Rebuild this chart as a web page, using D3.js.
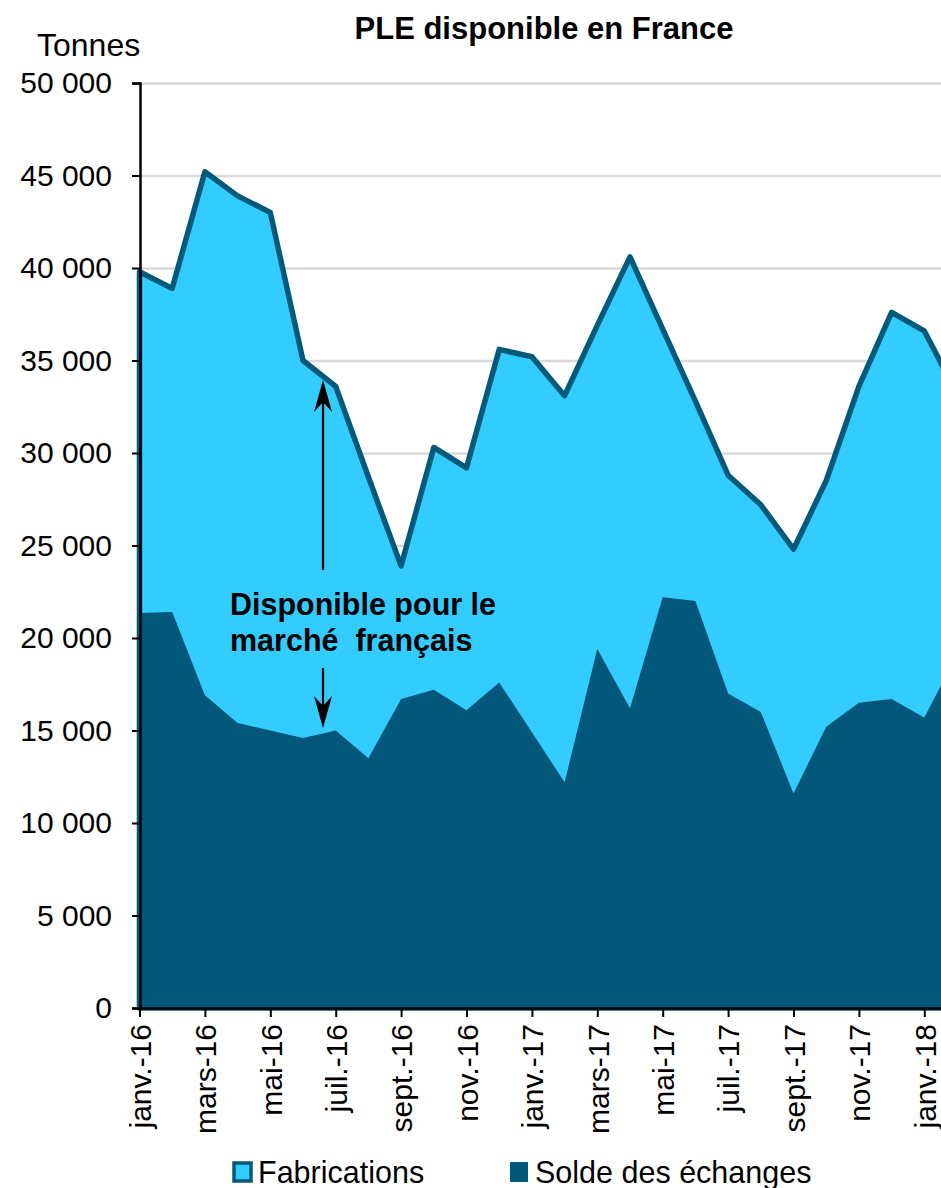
<!DOCTYPE html>
<html>
<head>
<meta charset="utf-8">
<script src="https://cdn.jsdelivr.net/npm/d3@7"></script>
<style>
    body { margin: 0; background: #fff; }
    svg { display: block; font-family: "Liberation Sans", Arial, sans-serif; }
</style>
</head>
<body>
<div id="chart"></div>
<script>
// months of the series (last one is cut by the right edge)
const months = ["janv.-16", "févr.-16", "mars-16", "avr.-16", "mai-16", "juin-16", "juil.-16", "août-16",
    "sept.-16", "oct.-16", "nov.-16", "déc.-16", "janv.-17", "févr.-17", "mars-17", "avr.-17", "mai-17",
    "juin-17", "juil.-17", "août-17", "sept.-17", "oct.-17", "nov.-17", "déc.-17", "janv.-18", "févr.-18"];

const tickMonths = ["janv.-16", "mars-16", "mai-16", "juil.-16", "sept.-16", "nov.-16", "janv.-17",
    "mars-17", "mai-17", "juil.-17", "sept.-17", "nov.-17", "janv.-18"];

// tonnes
const fabrications = [39800, 38900, 45200, 43900, 43000, 35000, 33600, 28700, 23900, 30300, 29200, 35600,
    35200, 33100, 36900, 40600, 36700, 32800, 28800, 27200, 24800, 28500, 33600, 37600, 36600, 33200];

const solde = [21350, 21400, 16900, 15400, 15000, 14600, 15000, 13500, 16700, 17200, 16100, 17600,
    14900, 12200, 19400, 16200, 22200, 22000, 17000, 16000, 11600, 15200, 16500, 16700, 15700, 19100];

const yTicks = d3.range(0, 50001, 5000);

const width = 941, height = 1188;
const plotLeft = 140, plotTop = 83, plotBottom = 1008;
const step = 32.7;

const svg = d3.select("#chart").append("svg")
    .attr("width", width)
    .attr("height", height);

const x = d3.scalePoint()
    .domain(months)
    .range([plotLeft - 0.5, plotLeft - 0.5 + step * (months.length - 1)]);

const y = d3.scaleLinear()
    .domain([0, 50000])
    .range([plotBottom, plotTop]);

const fr = d3.formatLocale({ decimal: ",", thousands: " ", grouping: [3], currency: ["", " €"] });
const fmt = fr.format(",d");

// gridlines
svg.append("g")
    .attr("transform", `translate(${plotLeft},0)`)
    .call(d3.axisLeft(y).tickValues(yTicks).tickSize(-(width - plotLeft)).tickFormat(""))
    .call(g => g.select(".domain").remove())
    .call(g => g.selectAll("line").attr("stroke", "#d9d9d9").attr("stroke-width", 2.5));

// Fabrications (light area with border)
const area = (vals) => d3.area()
    .x((d, i) => x(months[i]))
    .y0(y(0))
    .y1(d => y(d))(vals);

svg.append("path")
    .attr("d", area(fabrications))
    .attr("fill", "#33ccff")
    .attr("stroke", "#025a7a")
    .attr("stroke-width", 5.5)
    .attr("stroke-linejoin", "round");

// Solde des échanges
svg.append("path")
    .attr("d", area(solde))
    .attr("fill", "#02577a");

// y axis
const yAxis = svg.append("g")
    .attr("transform", `translate(${plotLeft},0)`)
    .call(d3.axisLeft(y).tickValues(yTicks).tickSize(8).tickPadding(20).tickFormat(fmt));
yAxis.select(".domain").attr("stroke", "#000").attr("stroke-width", 2.5);
yAxis.selectAll("line").attr("stroke", "#000").attr("stroke-width", 2);
yAxis.selectAll("text")
    .attr("font-size", 30)
    .attr("fill", "#000")
    .attr("font-family", "Liberation Sans, Arial, sans-serif");

// x axis
const xAxis = svg.append("g")
    .attr("transform", `translate(0,${plotBottom})`)
    .call(d3.axisBottom(x).tickValues(tickMonths).tickSize(9).tickSizeOuter(0));
xAxis.select(".domain").attr("stroke", "#000").attr("stroke-width", 2.5);
xAxis.selectAll("line").attr("stroke", "#000").attr("stroke-width", 2);
xAxis.selectAll("text")
    .attr("font-size", 30)
    .attr("fill", "#000")
    .attr("font-family", "Liberation Sans, Arial, sans-serif")
    .attr("transform", "rotate(-90)")
    .attr("text-anchor", "end")
    .attr("x", -16)
    .attr("y", 0)
    .attr("dy", "0.36em");

// titles
svg.append("text")
    .attr("x", 544)
    .attr("y", 39)
    .attr("text-anchor", "middle")
    .attr("font-size", 31)
    .attr("font-weight", "bold")
    .text("PLE disponible en France");

svg.append("text")
    .attr("x", 37)
    .attr("y", 56)
    .attr("font-size", 32)
    .text("Tonnes");

// annotation
const annX = x(months[5]) + 20;
const note = svg.append("text")
    .attr("x", 230)
    .attr("font-size", 30.5)
    .attr("font-weight", "bold");
note.append("tspan").attr("x", 230).attr("y", 615).text("Disponible pour le");
note.append("tspan").attr("x", 230).attr("y", 651).attr("xml:space", "preserve").text("marché  français");

function arrow(x0, yFrom, yTip) {
    const dir = yTip < yFrom ? 1 : -1;
    svg.append("line")
        .attr("x1", x0).attr("x2", x0)
        .attr("y1", yFrom).attr("y2", yTip + dir * 20)
        .attr("stroke", "#000")
        .attr("stroke-width", 2.2);
    svg.append("path")
        .attr("d", `M${x0},${yTip} L${x0 - 9},${yTip + dir * 32} L${x0},${yTip + dir * 22} L${x0 + 9},${yTip + dir * 32} Z`)
        .attr("fill", "#000");
}
arrow(annX, 570, 380);
arrow(annX, 668, 728);

// legend
const legend = svg.append("g").attr("font-size", 30.5);
legend.append("rect")
    .attr("x", 234).attr("y", 1163).attr("width", 17).attr("height", 18)
    .attr("fill", "#33ccff").attr("stroke", "#025a7a").attr("stroke-width", 3.5);
legend.append("text").attr("x", 258).attr("y", 1183).text("Fabrications");
legend.append("rect")
    .attr("x", 510).attr("y", 1162).attr("width", 18).attr("height", 20)
    .attr("fill", "#02577a");
legend.append("text").attr("x", 535).attr("y", 1183).text("Solde des échanges");
</script>
</body>
</html>
